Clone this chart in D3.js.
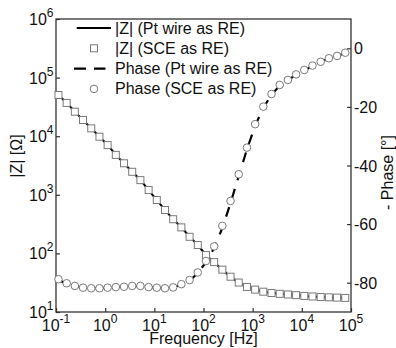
<!DOCTYPE html>
<html><head><meta charset="utf-8">
<script src="https://cdn.jsdelivr.net/npm/d3@7"></script>
<style>
html,body{margin:0;padding:0;background:#fff;}
svg{display:block;font-family:"Liberation Sans",Arial,sans-serif;}
</style></head>
<body>
<svg id="chart" width="396" height="348"></svg>
<script>
// Frequency [Hz]
const freq = [0.1122,0.1647,0.2417,0.3548,0.5209,0.7647,1.122,1.647,2.417,3.548,5.209,7.647,
  11.22,16.47,24.17,35.48,52.09,76.47,112.2,164.7,241.7,354.8,520.9,764.7,
  1122,1647,2417,3548,5209,7647,11220,16470,24170,35480,52090,76470];
// |Z| [Ohm]
const zPt  = [50100,37150,26300,18840,13650,9770,7080,4790,3440,2480,1790,1200,
  813,551,382,279,193,139,94,70.8,52.5,39.8,31.6,26.9,
  24.0,22.1,21.1,20.4,19.95,19.5,18.8,18.4,18.0,17.8,17.6,17.4];
const zSCE = [50500,37000,26200,18900,13600,9800,7050,4800,3450,2470,1780,1210,
  815,550,383,278,192,139,93.5,71,52.8,40,31.8,26.8,
  24.1,22.2,21.1,20.4,19.9,19.4,18.8,18.4,18.0,17.8,17.6,17.4];
// Phase [deg]
const phPt  = [-79.0,-80.4,-81.2,-81.7,-81.9,-81.9,-81.7,-81.5,-81.4,-81.2,-81.2,-81.5,
  -81.7,-81.9,-81.6,-80.6,-79.3,-76.8,-73.0,-68.2,-61.3,-52.8,-43.6,-34.5,
  -26.4,-20.3,-15.9,-12.7,-10.9,-9.0,-7.5,-6.0,-4.7,-3.5,-2.6,-1.6];
const phSCE = [-78.8,-80.2,-81.1,-81.7,-81.9,-81.9,-81.7,-81.5,-81.4,-81.1,-81.1,-81.5,
  -81.7,-81.9,-81.6,-80.5,-79.1,-76.5,-72.6,-67.6,-60.6,-52.1,-43.0,-33.9,
  -25.9,-19.9,-15.6,-12.5,-10.8,-8.9,-7.4,-5.9,-4.6,-3.4,-2.6,-1.5];
const xTicks = [0.1,1,10,100,1000,10000,100000];
const xExp = ["-1","0","1","2","3","4","5"];
const yLTicks = [10,100,1000,10000,100000,1000000];
const yLExp = ["1","2","3","4","5","6"];
const yRTicks = [-80,-60,-40,-20,0];
const legendLabels = ["|Z| (Pt wire as RE)","|Z| (SCE as RE)","Phase (Pt wire as RE)","Phase (SCE as RE)"];

const svg = d3.select("#chart");
const L = 56, R = 351, T = 19, B = 312;
const x = d3.scaleLog().domain([0.1, 1e5]).range([L, R]);
const yL = d3.scaleLog().domain([10, 1e6]).range([B, T]);
const yR = d3.scaleLinear().domain([-90, 10]).range([B, T]);
const axisCol = "#333", txtCol = "#111", mkCol = "#7a7a7a";

// frame
svg.append("rect").attr("x", L).attr("y", T).attr("width", R - L).attr("height", B - T)
  .attr("fill", "none").attr("stroke", axisCol).attr("stroke-width", 1.3);

function styleAxis(g){
  g.select(".domain").remove();
  g.selectAll(".tick line").attr("stroke", axisCol).attr("stroke-width", 1.2);
  g.selectAll(".tick text").remove();
}
const gx = svg.append("g").attr("transform", `translate(0,${B})`)
  .call(d3.axisBottom(x).tickValues(xTicks).tickSizeInner(-4).tickSizeOuter(0));
styleAxis(gx);
const gyl = svg.append("g").attr("transform", `translate(${L},0)`)
  .call(d3.axisLeft(yL).tickValues(yLTicks).tickSizeInner(-4).tickSizeOuter(0));
styleAxis(gyl);
const gyr = svg.append("g").attr("transform", `translate(${R},0)`)
  .call(d3.axisRight(yR).tickValues(yRTicks).tickSizeInner(-4).tickSizeOuter(0));
styleAxis(gyr);

// tick labels
xTicks.forEach((v, i) => {
  const t = svg.append("text").attr("x", x(v)).attr("y", B + 19).attr("text-anchor", "middle")
    .attr("fill", txtCol).style("font-size", "16px");
  t.append("tspan").text("10");
  t.append("tspan").attr("dy", -8).style("font-size", "12px").text(xExp[i]);
});
yLTicks.forEach((v, i) => {
  const t = svg.append("text").attr("x", L - 2.5).attr("y", yL(v) + 6).attr("text-anchor", "end")
    .attr("fill", txtCol).style("font-size", "16px");
  t.append("tspan").text("10");
  t.append("tspan").attr("dy", -8).style("font-size", "12px").text(yLExp[i]);
});
yRTicks.forEach(v => {
  svg.append("text").attr("x", R + 3).attr("y", yR(v) + 6).attr("text-anchor", "start")
    .attr("fill", txtCol).style("font-size", "16px").text(v);
});

// axis titles
svg.append("text").attr("x", 203.5).attr("y", 344.3).attr("text-anchor", "middle")
  .attr("fill", txtCol).style("font-size", "16px").text("Frequency [Hz]");
svg.append("text").attr("transform", "translate(21.5,156) rotate(-90)").attr("text-anchor", "middle")
  .attr("fill", txtCol).style("font-size", "16px").text("|Z| [Ω]");
svg.append("text").attr("transform", "translate(392.5,172.5) rotate(-90)").attr("text-anchor", "middle")
  .attr("fill", txtCol).style("font-size", "16px").text("- Phase [°]");

// lines
const lineZ = d3.line().x((d, i) => x(freq[i])).y(d => yL(d));
const linePh = d3.line().x((d, i) => x(freq[i])).y(d => yR(d));
svg.append("path").datum(zPt).attr("d", lineZ).attr("fill", "none")
  .attr("stroke", "#000").attr("stroke-width", 2);
svg.append("path").datum(phPt).attr("d", linePh).attr("fill", "none")
  .attr("stroke", "#000").attr("stroke-width", 2.2).attr("stroke-dasharray", "10,9");

// markers
svg.append("g").selectAll("rect").data(zSCE).join("rect")
  .attr("x", (d, i) => x(freq[i]) - 3.5).attr("y", d => yL(d) - 3.5)
  .attr("width", 7).attr("height", 7).attr("fill", "#fff")
  .attr("stroke", mkCol).attr("stroke-width", 1);
svg.append("g").selectAll("circle").data(phSCE).join("circle")
  .attr("cx", (d, i) => x(freq[i])).attr("cy", d => yR(d)).attr("r", 3.8)
  .attr("fill", "#fff").attr("stroke", mkCol).attr("stroke-width", 1);

// legend
const ly = [28, 48.3, 68.6, 88.9];
svg.append("line").attr("x1", 76.7).attr("x2", 111).attr("y1", ly[0]).attr("y2", ly[0])
  .attr("stroke", "#000").attr("stroke-width", 2);
svg.append("rect").attr("x", 94 - 3.5).attr("y", ly[1] - 3.5).attr("width", 7).attr("height", 7)
  .attr("fill", "#fff").attr("stroke", mkCol).attr("stroke-width", 1);
svg.append("line").attr("x1", 74).attr("x2", 105.5).attr("y1", ly[2]).attr("y2", ly[2])
  .attr("stroke", "#000").attr("stroke-width", 2.2).attr("stroke-dasharray", "12,8");
svg.append("circle").attr("cx", 94).attr("cy", ly[3]).attr("r", 3.8)
  .attr("fill", "#fff").attr("stroke", mkCol).attr("stroke-width", 1);
legendLabels.forEach((s, i) => {
  svg.append("text").attr("x", 115).attr("y", ly[i] + 5.5).attr("fill", txtCol)
    .style("font-size", "16px").text(s);
});
</script>
</body></html>
